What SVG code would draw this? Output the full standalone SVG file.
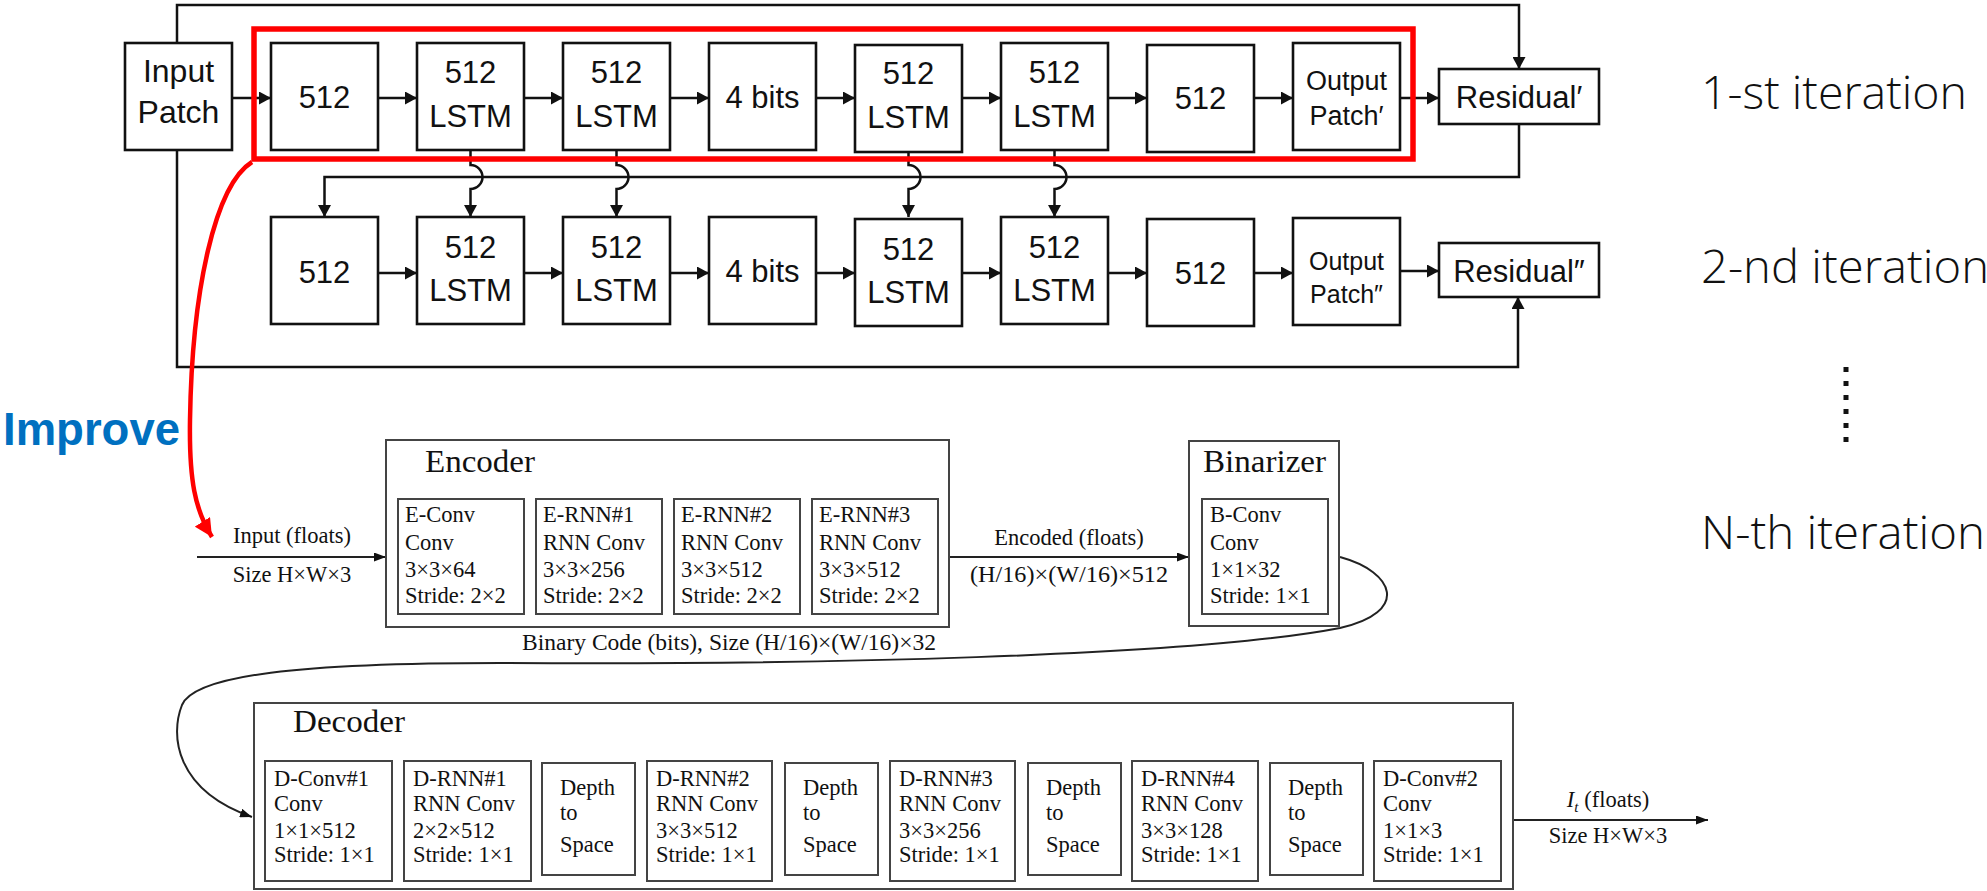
<svg xmlns="http://www.w3.org/2000/svg" width="1987" height="891" viewBox="0 0 1987 891">
<defs>
<style>
.ln{fill:none;stroke:#111;stroke-width:2.5}
.lnb{fill:none;stroke:#222;stroke-width:2}
.box{fill:#fff;stroke:#111;stroke-width:2.6}
.pbox{fill:#fff;stroke:#444;stroke-width:2}
.s{font-family:"Liberation Sans",Arial,sans-serif;fill:#111;text-anchor:middle}
.s30{font-size:31px}
.s27{font-size:27px}
.it{font-family:"Open Sans","Liberation Sans",Arial,sans-serif;font-weight:300;font-size:46px;fill:#111}
.p{font-family:"Liberation Serif","Times New Roman",serif;font-size:22.5px;fill:#111}
.pt{font-family:"Liberation Serif","Times New Roman",serif;font-size:31px;fill:#111}
.pc{text-anchor:middle}
</style>
<marker id="ah" markerUnits="userSpaceOnUse" markerWidth="13" markerHeight="13" refX="12" refY="6.5" orient="auto"><path d="M0,0 L12,6.5 L0,13 z" fill="#111"/></marker>
<marker id="ahs" markerUnits="userSpaceOnUse" markerWidth="12" markerHeight="9" refX="12" refY="4.5" orient="auto"><path d="M0,0 L12,4.5 L0,9 z" fill="#111"/></marker>
<marker id="ahr" markerUnits="userSpaceOnUse" markerWidth="20" markerHeight="18" refX="18" refY="9" orient="auto"><path d="M0,0 L18,9 L0,18 z" fill="#ff0000"/></marker>
</defs>
<rect width="1987" height="891" fill="#fff"/>

<g id="connectors">
<path class="ln" d="M177,43 V5 H1519 V69" marker-end="url(#ah)"/>
<path class="ln" d="M177,150 V367 H1518 V297" marker-end="url(#ah)"/>
<path class="ln" d="M1519,124 V177 H324.5 V217" marker-end="url(#ah)"/>
<path class="ln" d="M470.5,150 V165 A12,12 0 0 1 470.5,189 V217" marker-end="url(#ah)"/>
<path class="ln" d="M616.5,150 V165 A12,12 0 0 1 616.5,189 V217" marker-end="url(#ah)"/>
<path class="ln" d="M908.5,150 V165 A12,12 0 0 1 908.5,189 V217" marker-end="url(#ah)"/>
<path class="ln" d="M1054.5,150 V165 A12,12 0 0 1 1054.5,189 V217" marker-end="url(#ah)"/>
<path class="ln" d="M232,98 H271" marker-end="url(#ah)"/>
<path class="ln" d="M378,98 H417" marker-end="url(#ah)"/>
<path class="ln" d="M524,98 H563" marker-end="url(#ah)"/>
<path class="ln" d="M670,98 H709" marker-end="url(#ah)"/>
<path class="ln" d="M816,98 H855" marker-end="url(#ah)"/>
<path class="ln" d="M962,98 H1001" marker-end="url(#ah)"/>
<path class="ln" d="M1108,98 H1147" marker-end="url(#ah)"/>
<path class="ln" d="M1254,98 H1293" marker-end="url(#ah)"/>
<path class="ln" d="M1400,98 H1439" marker-end="url(#ah)"/>
<path class="ln" d="M378,273 H417" marker-end="url(#ah)"/>
<path class="ln" d="M524,273 H563" marker-end="url(#ah)"/>
<path class="ln" d="M670,273 H709" marker-end="url(#ah)"/>
<path class="ln" d="M816,273 H855" marker-end="url(#ah)"/>
<path class="ln" d="M962,273 H1001" marker-end="url(#ah)"/>
<path class="ln" d="M1108,273 H1147" marker-end="url(#ah)"/>
<path class="ln" d="M1254,273 H1293" marker-end="url(#ah)"/>
<path class="ln" d="M1400,271 H1439" marker-end="url(#ah)"/>
<path d="M252,162 C215,185 192,290 190,420 C189,480 195,510 212,537" fill="none" stroke="#ff0000" stroke-width="4.5" marker-end="url(#ahr)"/>
<path class="lnb" d="M197,557 H386" marker-end="url(#ahs)"/>
<path class="lnb" d="M949,557 H1189" marker-end="url(#ahs)"/>
<path class="lnb" d="M1513,820 H1708" marker-end="url(#ahs)"/>
<path class="lnb" d="M1340,557 C1395,572 1410,612 1340,628 C1190,657 800,665 500,663 C300,663 195,675 182,705 C170,735 175,790 252,817" marker-end="url(#ahs)"/>
</g>

<g id="red-highlight">
<rect x="254" y="29" width="1159" height="130" fill="none" stroke="#ff0000" stroke-width="5.5"/>
</g>

<g id="input-patch">
<rect class="box" x="125" y="43" width="107" height="107"/>
<text class="s" font-size="32" x="178.5" y="82">Input</text>
<text class="s" font-size="32" x="178.5" y="123">Patch</text>
</g>

<g id="r1-512a"><rect class="box" x="271" y="43" width="107" height="107"/><text class="s s30" x="324.5" y="108">512</text></g>
<g id="r1-lstm1"><rect class="box" x="417" y="43" width="107" height="107"/><text class="s s30" x="470.5" y="83">512</text><text class="s s30" x="470.5" y="127">LSTM</text></g>
<g id="r1-lstm2"><rect class="box" x="563" y="43" width="107" height="107"/><text class="s s30" x="616.5" y="83">512</text><text class="s s30" x="616.5" y="127">LSTM</text></g>
<g id="r1-bits"><rect class="box" x="709" y="43" width="107" height="107"/><text class="s s30" x="762.5" y="108">4 bits</text></g>
<g id="r1-lstm3"><rect class="box" x="855" y="45" width="107" height="107"/><text class="s s30" x="908.5" y="84">512</text><text class="s s30" x="908.5" y="128">LSTM</text></g>
<g id="r1-lstm4"><rect class="box" x="1001" y="43" width="107" height="107"/><text class="s s30" x="1054.5" y="83">512</text><text class="s s30" x="1054.5" y="127">LSTM</text></g>
<g id="r1-512b"><rect class="box" x="1147" y="45" width="107" height="107"/><text class="s s30" x="1200.5" y="109">512</text></g>
<g id="r1-output"><rect class="box" x="1293" y="43" width="107" height="107"/><text class="s s27" x="1346.5" y="90">Output</text><text class="s s27" x="1346.5" y="125">Patch′</text></g>
<g id="r1-residual"><rect class="box" x="1439" y="69" width="160" height="55"/><text class="s s30" x="1519" y="108">Residual′</text></g>

<g id="r2-512a"><rect class="box" x="271" y="217" width="107" height="107"/><text class="s s30" x="324.5" y="283">512</text></g>
<g id="r2-lstm1"><rect class="box" x="417" y="217" width="107" height="107"/><text class="s s30" x="470.5" y="258">512</text><text class="s s30" x="470.5" y="301">LSTM</text></g>
<g id="r2-lstm2"><rect class="box" x="563" y="217" width="107" height="107"/><text class="s s30" x="616.5" y="258">512</text><text class="s s30" x="616.5" y="301">LSTM</text></g>
<g id="r2-bits"><rect class="box" x="709" y="217" width="107" height="107"/><text class="s s30" x="762.5" y="282">4 bits</text></g>
<g id="r2-lstm3"><rect class="box" x="855" y="219" width="107" height="107"/><text class="s s30" x="908.5" y="260">512</text><text class="s s30" x="908.5" y="303">LSTM</text></g>
<g id="r2-lstm4"><rect class="box" x="1001" y="217" width="107" height="107"/><text class="s s30" x="1054.5" y="258">512</text><text class="s s30" x="1054.5" y="301">LSTM</text></g>
<g id="r2-512b"><rect class="box" x="1147" y="219" width="107" height="107"/><text class="s s30" x="1200.5" y="284">512</text></g>
<g id="r2-output"><rect class="box" x="1293" y="218" width="107" height="107"/><text class="s" font-size="25" x="1346.5" y="270">Output</text><text class="s" font-size="25" x="1346.5" y="303">Patch″</text></g>
<g id="r2-residual"><rect class="box" x="1439" y="243" width="160" height="54"/><text class="s s30" x="1519" y="282">Residual″</text></g>

<g id="iterations">
<text class="it" x="1701" y="109" textLength="266" lengthAdjust="spacingAndGlyphs">1-st iteration</text>
<text class="it" x="1701" y="283" textLength="288" lengthAdjust="spacingAndGlyphs">2-nd iteration</text>
<text class="it" x="1701" y="549" textLength="284" lengthAdjust="spacingAndGlyphs">N-th iteration</text>
<g fill="#111">
<rect x="1843.5" y="367" width="5" height="5"/>
<rect x="1843.5" y="381" width="5" height="5"/>
<rect x="1843.5" y="395" width="5" height="5"/>
<rect x="1843.5" y="409" width="5" height="5"/>
<rect x="1843.5" y="423" width="5" height="5"/>
<rect x="1843.5" y="437" width="5" height="5"/>
</g>
</g>

<g id="improve-label">
<text x="3" y="445" font-family="'Liberation Sans',Arial,sans-serif" font-weight="bold" font-size="46" fill="#0070c0" textLength="177" lengthAdjust="spacingAndGlyphs">Improve</text>
</g>

<g id="input-label">
<text class="p pc" x="292" y="543">Input (floats)</text>
<text class="p pc" x="292" y="582">Size H×W×3</text>
</g>

<g id="encoder">
<rect class="pbox" x="386" y="440" width="563" height="187"/>
<text class="pt" x="425" y="472" textLength="110" lengthAdjust="spacingAndGlyphs">Encoder</text>
<g id="e-conv"><rect class="pbox" x="398" y="499" width="126" height="115"/>
<text class="p" x="405" y="522">E-Conv</text><text class="p" x="405" y="550">Conv</text><text class="p" x="405" y="577">3×3×64</text><text class="p" x="405" y="603">Stride: 2×2</text></g>
<g id="e-rnn1"><rect class="pbox" x="536" y="499" width="126" height="115"/>
<text class="p" x="543" y="522">E-RNN#1</text><text class="p" x="543" y="550">RNN Conv</text><text class="p" x="543" y="577">3×3×256</text><text class="p" x="543" y="603">Stride: 2×2</text></g>
<g id="e-rnn2"><rect class="pbox" x="674" y="499" width="126" height="115"/>
<text class="p" x="681" y="522">E-RNN#2</text><text class="p" x="681" y="550">RNN Conv</text><text class="p" x="681" y="577">3×3×512</text><text class="p" x="681" y="603">Stride: 2×2</text></g>
<g id="e-rnn3"><rect class="pbox" x="812" y="499" width="126" height="115"/>
<text class="p" x="819" y="522">E-RNN#3</text><text class="p" x="819" y="550">RNN Conv</text><text class="p" x="819" y="577">3×3×512</text><text class="p" x="819" y="603">Stride: 2×2</text></g>
</g>

<g id="encoded-label">
<text class="p pc" x="1069" y="545">Encoded (floats)</text>
<text class="p pc" x="1069" y="582" textLength="198" lengthAdjust="spacingAndGlyphs">(H/16)×(W/16)×512</text>
</g>

<g id="binarizer">
<rect class="pbox" x="1189" y="441" width="150" height="185"/>
<text class="pt" x="1203" y="472" textLength="123" lengthAdjust="spacingAndGlyphs">Binarizer</text>
<rect class="pbox" x="1202" y="499" width="126" height="115"/>
<text class="p" x="1210" y="522">B-Conv</text><text class="p" x="1210" y="550">Conv</text><text class="p" x="1210" y="577">1×1×32</text><text class="p" x="1210" y="603">Stride: 1×1</text>
</g>

<g id="binary-code-label">
<text class="p" x="522" y="650" textLength="414" lengthAdjust="spacingAndGlyphs">Binary Code (bits), Size (H/16)×(W/16)×32</text>
</g>

<g id="decoder">
<rect class="pbox" x="254" y="703" width="1259" height="186"/>
<text class="pt" x="293" y="732" textLength="112" lengthAdjust="spacingAndGlyphs">Decoder</text>
<g id="d-conv1"><rect class="pbox" x="265" y="761" width="127" height="120"/>
<text class="p" x="274" y="786">D-Conv#1</text><text class="p" x="274" y="811">Conv</text><text class="p" x="274" y="838">1×1×512</text><text class="p" x="274" y="862">Stride: 1×1</text></g>
<g id="d-rnn1"><rect class="pbox" x="404" y="761" width="127" height="120"/>
<text class="p" x="413" y="786">D-RNN#1</text><text class="p" x="413" y="811">RNN Conv</text><text class="p" x="413" y="838">2×2×512</text><text class="p" x="413" y="862">Stride: 1×1</text></g>
<g id="d2s1"><rect class="pbox" x="542" y="763" width="93" height="112"/>
<text class="p" x="560" y="795">Depth</text><text class="p" x="560" y="820">to</text><text class="p" x="560" y="852">Space</text></g>
<g id="d-rnn2"><rect class="pbox" x="647" y="761" width="125" height="120"/>
<text class="p" x="656" y="786">D-RNN#2</text><text class="p" x="656" y="811">RNN Conv</text><text class="p" x="656" y="838">3×3×512</text><text class="p" x="656" y="862">Stride: 1×1</text></g>
<g id="d2s2"><rect class="pbox" x="785" y="763" width="93" height="112"/>
<text class="p" x="803" y="795">Depth</text><text class="p" x="803" y="820">to</text><text class="p" x="803" y="852">Space</text></g>
<g id="d-rnn3"><rect class="pbox" x="890" y="761" width="125" height="120"/>
<text class="p" x="899" y="786">D-RNN#3</text><text class="p" x="899" y="811">RNN Conv</text><text class="p" x="899" y="838">3×3×256</text><text class="p" x="899" y="862">Stride: 1×1</text></g>
<g id="d2s3"><rect class="pbox" x="1028" y="763" width="93" height="112"/>
<text class="p" x="1046" y="795">Depth</text><text class="p" x="1046" y="820">to</text><text class="p" x="1046" y="852">Space</text></g>
<g id="d-rnn4"><rect class="pbox" x="1132" y="761" width="126" height="120"/>
<text class="p" x="1141" y="786">D-RNN#4</text><text class="p" x="1141" y="811">RNN Conv</text><text class="p" x="1141" y="838">3×3×128</text><text class="p" x="1141" y="862">Stride: 1×1</text></g>
<g id="d2s4"><rect class="pbox" x="1270" y="763" width="93" height="112"/>
<text class="p" x="1288" y="795">Depth</text><text class="p" x="1288" y="820">to</text><text class="p" x="1288" y="852">Space</text></g>
<g id="d-conv2"><rect class="pbox" x="1374" y="761" width="127" height="120"/>
<text class="p" x="1383" y="786">D-Conv#2</text><text class="p" x="1383" y="811">Conv</text><text class="p" x="1383" y="838">1×1×3</text><text class="p" x="1383" y="862">Stride: 1×1</text></g>
</g>

<g id="output-label">
<text class="p pc" x="1608" y="807"><tspan font-style="italic">I</tspan><tspan font-style="italic" font-size="15" dy="5">t</tspan><tspan dy="-5"> (floats)</tspan></text>
<text class="p pc" x="1608" y="843">Size H×W×3</text>
</g>
</svg>
